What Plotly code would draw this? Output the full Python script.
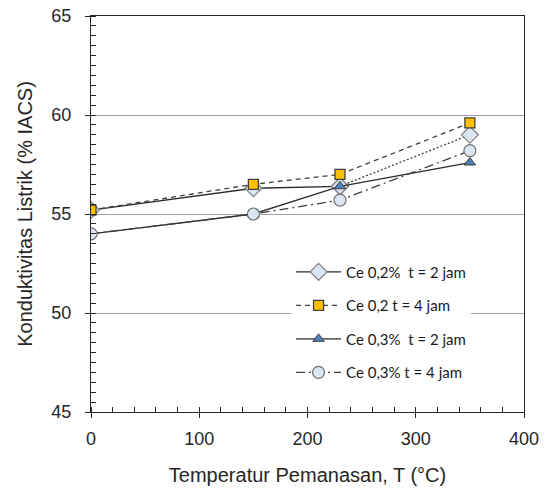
import plotly.graph_objects as go

temps = [0, 150, 230, 350]
ce02_t2 = [55.2, 56.3, 56.4, 59.0]
ce02_t4 = [55.2, 56.5, 57.0, 59.6]
ce03_t2 = [54.0, 55.0, 56.4, 57.6]
ce03_t4 = [54.0, 55.0, 55.7, 58.2]

names = ["Ce 0,2%  t = 2 jam", "Ce 0,2 t = 4 jam", "Ce 0,3%  t = 2 jam", "Ce 0,3% t = 4 jam"]

line_col = "#2b2b2b"
fig = go.Figure()

# Series 1: diamond, solid then dotted last segment
fig.add_trace(go.Scatter(
    x=temps[:3], y=ce02_t2[:3], name=names[0], mode="lines+markers", legendgroup="g1",
    line=dict(color=line_col, width=1.3),
    marker=dict(symbol="diamond", size=13, color="#dce6f2", line=dict(color="#808080", width=1.2)),
))
fig.add_trace(go.Scatter(
    x=temps[2:], y=ce02_t2[2:], name=names[0], mode="lines+markers", legendgroup="g1", showlegend=False,
    line=dict(color="#404040", width=1.3, dash="2px,2px"),
    marker=dict(symbol="diamond", size=13, color="#dce6f2", line=dict(color="#808080", width=1.2)),
))
fig.add_trace(go.Scatter(
    x=temps, y=ce02_t4, name=names[1], mode="lines+markers", legendgroup="g2",
    line=dict(color="#404040", width=1.3, dash="5px,4px"),
    marker=dict(symbol="square", size=10, color="#ffc000", line=dict(color="#404040", width=1.3)),
))
fig.add_trace(go.Scatter(
    x=temps, y=ce03_t2, name=names[2], mode="lines+markers", legendgroup="g3",
    line=dict(color=line_col, width=1.3),
    marker=dict(symbol="triangle-up", size=10, color="#4f81bd", line=dict(color="#404040", width=1)),
))
fig.add_trace(go.Scatter(
    x=temps, y=ce03_t4, name=names[3], mode="lines+markers", legendgroup="g4",
    line=dict(color="#404040", width=1.3, dash="9px,4px,2px,4px"),
    marker=dict(symbol="circle", size=12, color="#dce6f2", line=dict(color="#6e6e6e", width=1.2)),
))

axis_font = dict(family="Liberation Sans, Arial", size=18, color="#262626")
title_font = dict(family="Liberation Sans, Arial", size=20, color="#262626")
fig.update_layout(
    width=552, height=488,
    margin=dict(l=91, r=28, t=16, b=76, autoexpand=False),
    paper_bgcolor="white", plot_bgcolor="white",
    showlegend=True,
    legend=dict(
        x=0.462, y=0.395, xanchor="left", yanchor="top",
        bgcolor="white", borderwidth=0,
        font=dict(family="Lato, Open Sans", size=15, color="#1a1a1a"),
        tracegroupgap=11, traceorder="grouped",
        itemwidth=45,
    ),
    xaxis=dict(
        range=[0, 400], tickvals=[0, 100, 200, 300, 400],
        showgrid=False, zeroline=False, automargin=False,
        showline=True, linecolor="#262626", linewidth=1.3, mirror=True,
        ticks="outside", ticklen=5, tickcolor="#262626", tickwidth=1,
        ticklabelstandoff=5,
        minor=dict(dtick=20, ticks="inside", ticklen=5, tickcolor="#262626", showgrid=False),
        tickfont=axis_font,
        title=dict(text="Temperatur Pemanasan, T (°C)", font=title_font, standoff=20),
    ),
    yaxis=dict(
        range=[45, 65], tickvals=[45, 50, 55, 60, 65],
        showgrid=True, gridcolor="#a0a0a0", gridwidth=1,
        zeroline=False, automargin=False,
        showline=True, linecolor="#262626", linewidth=1.3, mirror=True,
        ticks="outside", ticklen=5, tickcolor="#262626", tickwidth=1,
        ticklabelstandoff=10,
        minor=dict(dtick=0.5, ticks="inside", ticklen=5, tickcolor="#262626", showgrid=False),
        tickfont=axis_font,
        title=dict(text="Konduktivitas Listrik (% IACS)", font=title_font, standoff=13),
    ),
)

fig.write_html("out.html", config={"displayModeBar": False},
               post_script="document.body.style.margin='0';")
